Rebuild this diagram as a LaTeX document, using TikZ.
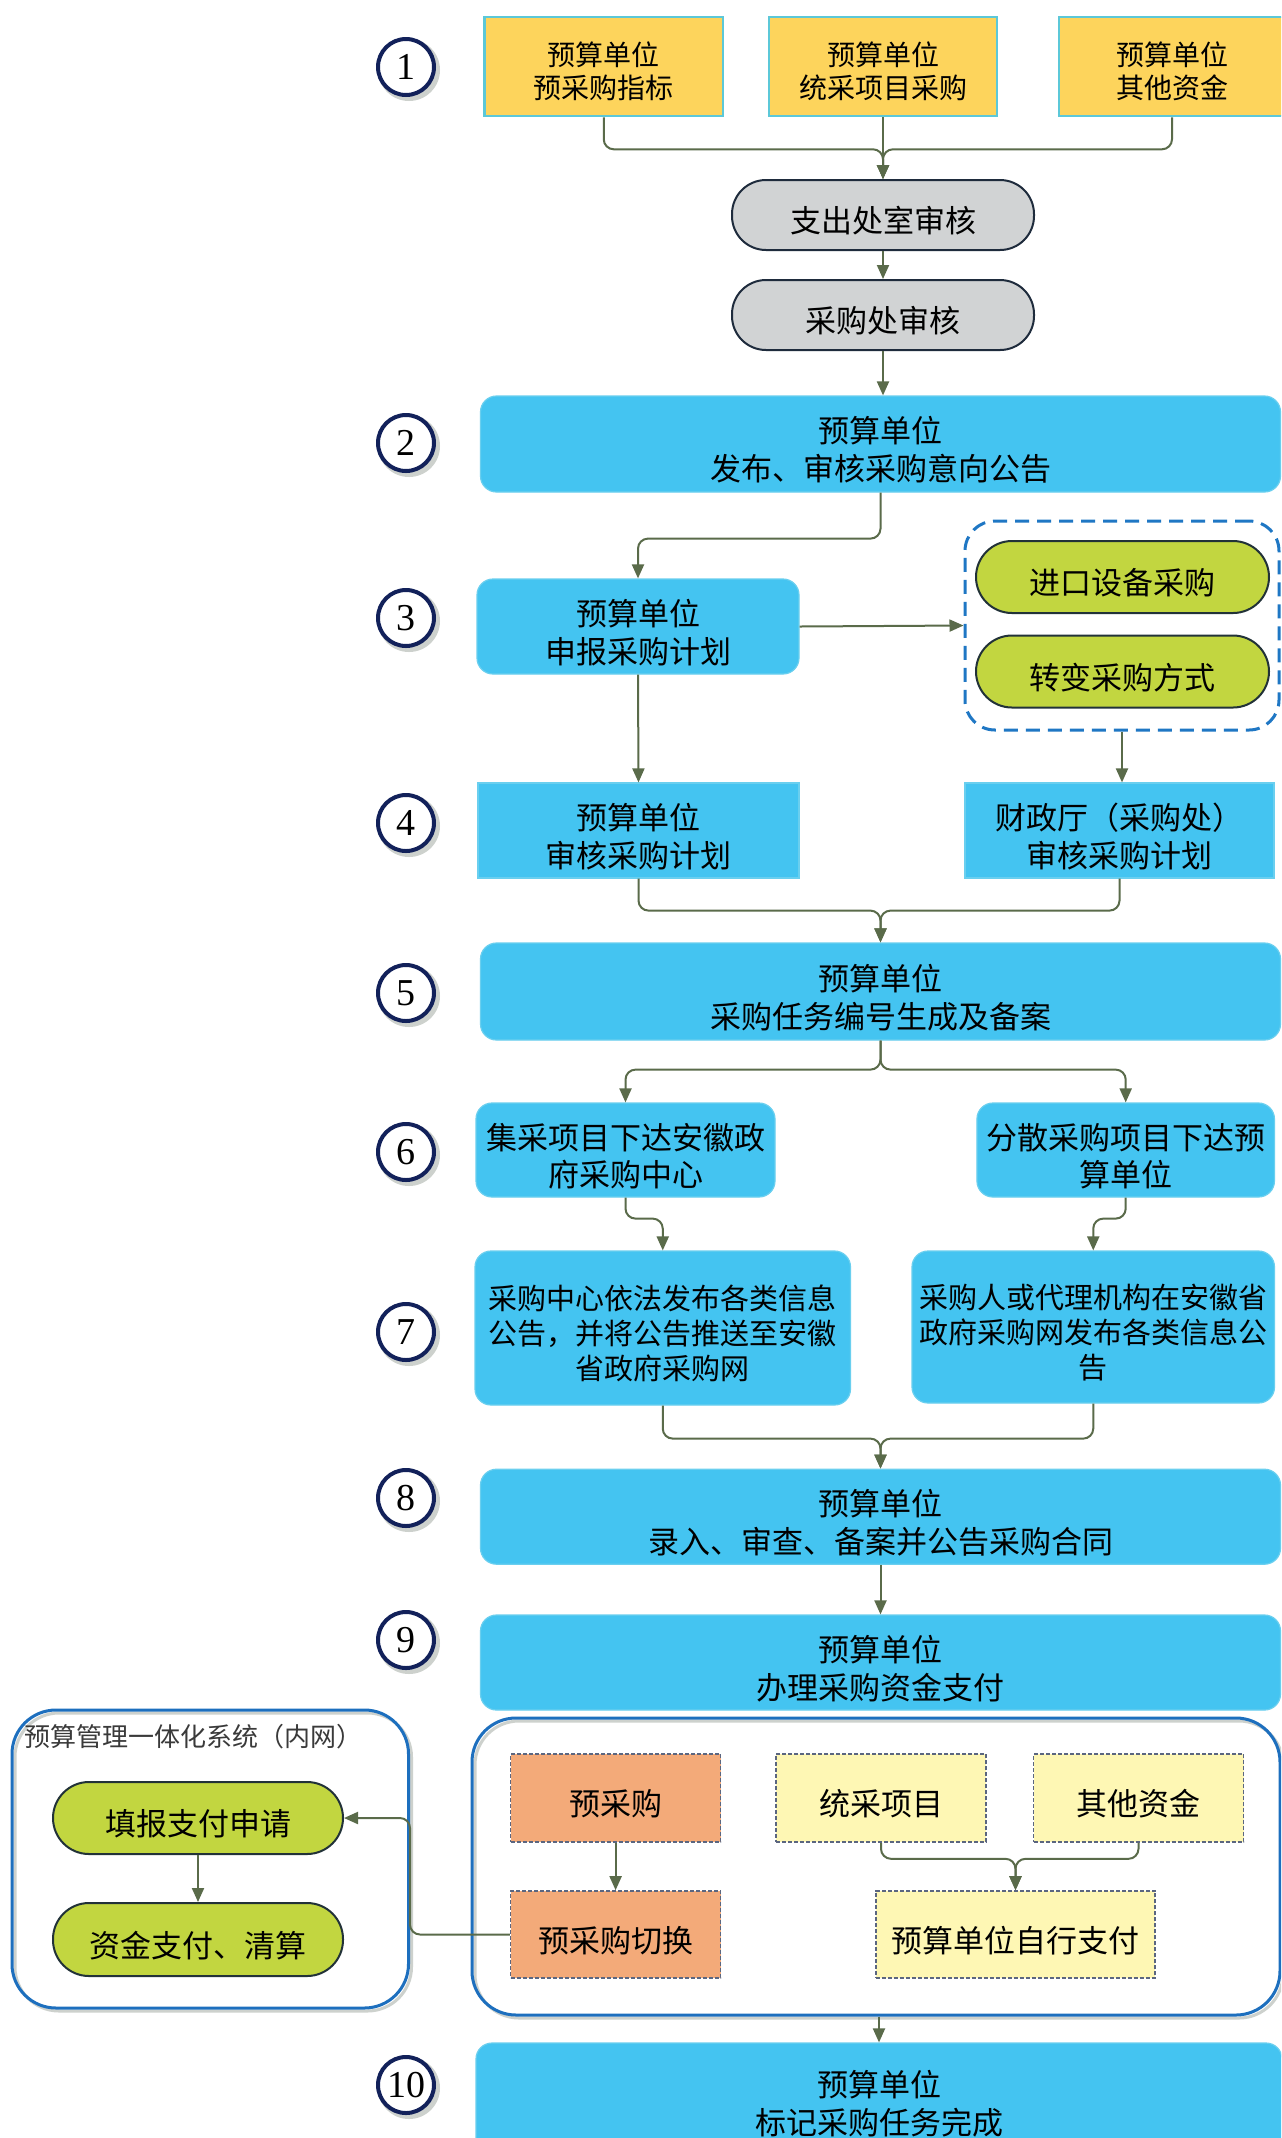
\documentclass[tikz,border=0pt]{standalone}
\usepackage{fontspec}
\setmainfont{Liberation Serif}
\newfontfamily\cjk{Noto Sans CJK SC}
\usetikzlibrary{arrows.meta,calc}
\definecolor{yel}{HTML}{FDD45C}
\definecolor{ybord}{HTML}{5CC8D8}
\definecolor{grayf}{HTML}{D1D3D4}
\definecolor{navyb}{HTML}{1E2B3C}
\definecolor{skyb}{HTML}{44C4F1}
\definecolor{skyborder}{HTML}{6ACFEF}
\definecolor{lime}{HTML}{C2D640}
\definecolor{darkb}{HTML}{223238}
\definecolor{dashblue}{HTML}{1F77C4}
\definecolor{grpblue}{HTML}{1D6FBE}
\definecolor{salmon}{HTML}{F3AA79}
\definecolor{lyel}{HTML}{FEF7B4}
\definecolor{dotc}{HTML}{5B6680}
\definecolor{connc}{HTML}{5A6B4A}
\definecolor{navy}{HTML}{12215A}
\definecolor{shadowc}{HTML}{CDD1CD}
\definecolor{titlec}{HTML}{3A3A3A}
\tikzset{
 conn/.style={draw=connc, line width=1pt, rounded corners=5pt, -{Triangle[length=7pt,width=6pt]}},
 tpad/.style={execute at begin node={\rule{0pt}{#1}}},
 base/.style={align=center, inner sep=0pt, font=\cjk\fontsize{15.5pt}{19pt}\selectfont, tpad=19pt},
 two/.style={tpad=38pt},
 ybox/.style={base, rectangle, fill=yel, draw=ybord, line width=1.3pt, font=\cjk\fontsize{14pt}{16.5pt}\selectfont, tpad=33.5pt},
 gpill/.style={base, fill=grayf, draw=navyb, line width=1pt, rounded corners=17pt},
 bbox/.style={base, fill=skyb, draw=skyborder, line width=0.6pt, rounded corners=8pt},
 sbox/.style={base, fill=skyb, draw=skyborder, line width=0.6pt},
 lpill/.style={base, fill=lime, draw=darkb, line width=1pt, rounded corners=18pt},
 grpd/.style={draw=dashblue, line width=1.5pt, dash pattern=on 7pt off 4pt, rounded corners=15pt},
 grp/.style={draw=grpblue, line width=1.5pt, rounded corners=22pt},
 grpsh/.style={draw=shadowc, line width=1.5pt, rounded corners=22pt},
 obox/.style={base, fill=salmon, draw=dotc, line width=0.8pt, dash pattern=on 2pt off 1pt},
 lybox/.style={base, fill=lyel, draw=dotc, line width=0.8pt, dash pattern=on 2pt off 1pt},
 num/.style={circle, draw=navy, line width=2pt, fill=white, minimum size=28pt, inner sep=0pt, font=\fontsize{19pt}{19pt}\selectfont},
}
\begin{document}
\begin{tikzpicture}[x=0.5pt,y=-0.5pt]
\useasboundingbox (0,0) rectangle (1281,2138);
\fill[white] (0,0) rectangle (1281,2138);
\clip (0,0) rectangle (1281,2138);

% step numbers
\foreach \n/\yy in {1/67,2/443,3/618,4/823,5/993,6/1152,7/1332,8/1498,9/1640,10/2085}{
  \fill[shadowc] (409,\yy+3) circle (15.5pt);
  \node[num] (c\n) at (406,\yy) {\n};
}

% row 1
\node[ybox, minimum width=119.25pt, minimum height=49.5pt] (y1) at (603.75,66.5) {预算单位\\预采购指标};
\node[ybox, minimum width=114pt, minimum height=49.5pt] (y2) at (883,66.5) {预算单位\\统采项目采购};
\node[ybox, minimum width=113pt, minimum height=49.5pt] (y3) at (1172,66.5) {预算单位\\其他资金};
\node[gpill, minimum width=151pt, minimum height=35pt] (g1) at (883,215) {支出处室审核};
\node[gpill, minimum width=151pt, minimum height=35pt] (g2) at (883,315) {采购处审核};

% row 2
\node[bbox, two, minimum width=400pt, minimum height=48pt] (b2) at (880.5,444) {预算单位\\发布、审核采购意向公告};

% row 3
\node[bbox, two, minimum width=161pt, minimum height=47.5pt] (b3) at (638,626.5) {预算单位\\申报采购计划};
\node[grpd, minimum width=157pt, minimum height=104.5pt] (grp1) at (1122,625.5) {};
\node[lpill, minimum width=146.5pt, minimum height=36pt] (p1) at (1122.5,577) {进口设备采购};
\node[lpill, minimum width=146.5pt, minimum height=36pt] (p2) at (1122.5,671.5) {转变采购方式};

% row 4
\node[sbox, two, minimum width=160.5pt, minimum height=47.5pt] (b4l) at (638.5,830.5) {预算单位\\审核采购计划};
\node[sbox, two, minimum width=154.5pt, minimum height=47.5pt] (b4r) at (1119.5,830.5) {财政厅（采购处）\\审核采购计划};

% row 5
\node[bbox, two, minimum width=400pt, minimum height=48.5pt] (b5) at (880.5,991.5) {预算单位\\采购任务编号生成及备案};

% row 6
\node[bbox, minimum width=149.5pt, minimum height=47pt, font=\cjk\fontsize{15.5pt}{18.5pt}\selectfont, tpad=37.5pt] (b6l) at (625.5,1150) {集采项目下达安徽政\\府采购中心};
\node[bbox, minimum width=148.75pt, minimum height=47pt, font=\cjk\fontsize{15.5pt}{18.5pt}\selectfont, tpad=37.5pt] (b6r) at (1125.7,1150) {分散采购项目下达预\\算单位};

% row 7
\node[bbox, minimum width=187.75pt, minimum height=77pt, font=\cjk\fontsize{14.5pt}{17.5pt}\selectfont, tpad=53pt] (b7l) at (662.75,1328) {采购中心依法发布各类信息\\公告，并将公告推送至安徽\\省政府采购网};
\node[bbox, minimum width=181.25pt, minimum height=76pt, font=\cjk\fontsize{14.5pt}{17.5pt}\selectfont, tpad=53pt] (b7r) at (1093.25,1327) {采购人或代理机构在安徽省\\政府采购网发布各类信息公\\告};

% rows 8, 9
\node[bbox, two, minimum width=400pt, minimum height=47.5pt] (b8) at (880.5,1516.7) {预算单位\\录入、审查、备案并公告采购合同};
\node[bbox, two, minimum width=400pt, minimum height=47.5pt] (b9) at (880.5,1662.5) {预算单位\\办理采购资金支付};

% payment groups
\node[grpsh, minimum width=198.25pt, minimum height=149pt] (lgs) at (213.25,1862) {};
\node[grpsh, minimum width=404pt, minimum height=148.5pt] (rgs) at (879,1869.5) {};
\node[grp, minimum width=198.25pt, minimum height=149pt] (lg) at (210.25,1859) {};
\node[grp, minimum width=404pt, minimum height=148.5pt] (rg) at (876,1866.5) {};
\node[anchor=west, inner sep=0pt, font=\cjk\fontsize{13pt}{13pt}\selectfont, text=titlec] (ttl) at (24,1737) {预算管理一体化系统（内网）};
\node[lpill, minimum width=145pt, minimum height=36pt] (f1) at (198,1818) {填报支付申请};
\node[lpill, minimum width=145pt, minimum height=36.5pt] (f2) at (198,1939.5) {资金支付、清算};
\node[obox, minimum width=105pt, minimum height=44pt] (yc) at (615.6,1798) {预采购};
\node[lybox, minimum width=105pt, minimum height=44pt] (tc) at (881,1798) {统采项目};
\node[lybox, minimum width=105pt, minimum height=44pt] (qt) at (1138.5,1798) {其他资金};
\node[obox, minimum width=105pt, minimum height=43.5pt] (qh) at (615.6,1934.5) {预采购切换};
\node[lybox, minimum width=139.7pt, minimum height=43.5pt] (zx) at (1015.5,1934.5) {预算单位自行支付};

% row 10
\node[bbox, two, minimum width=403pt, minimum height=55pt] (b10) at (879,2098) {预算单位\\标记采购任务完成};

% connectors
\draw[conn] (y1.south) -- ++(0,32) -| (g1.north);
\draw[conn] (y3.south) -- ++(0,32) -| (g1.north);
\draw[conn] (y2.south) -- (g1.north);
\draw[conn] (g1.south) -- (g2.north);
\draw[conn] (g2.south) -- (g2.south |- b2.north);
\draw[conn] (b2.south) -- ++(0,46) -| (b3.north);
\draw[conn] (b3.east) -- (grp1.west);
\draw[conn] (b3.south) -- (b4l.north);
\draw[conn] (grp1.south) -- (grp1.south |- b4r.north);
\draw[conn] (b4l.south) -- ++(0,32) -| (b5.north);
\draw[conn] (b4r.south) -- ++(0,32) -| (b5.north);
\draw[conn] (b5.south) -- ++(0,29) -| (b6l.north);
\draw[conn] (b5.south) -- ++(0,29) -| (b6r.north);
\draw[conn] (b6l.south) -- ++(0,21) -| (b7l.north);
\draw[conn] (b6r.south) -- ++(0,21) -| (b7r.north);
\draw[conn] (b7l.south) -- ++(0,33) -| (b8.north);
\draw[conn] (b7r.south) -- ++(0,35) -| (b8.north);
\draw[conn] (b8.south) -- (b9.north);
\draw[conn] (f1.south) -- (f2.north);
\draw[conn] (yc.south) -- (qh.north);
\draw[conn] (tc.south) -- ++(0,16) -| (zx.north);
\draw[conn] (qt.south) -- ++(0,16) -| (zx.north);
\draw[conn] (qh.west) -- (qh.west -| lg.east) |- (f1.east);
\draw[conn] (rg.south -| b10.north) -- (b10.north);
\end{tikzpicture}
\end{document}
